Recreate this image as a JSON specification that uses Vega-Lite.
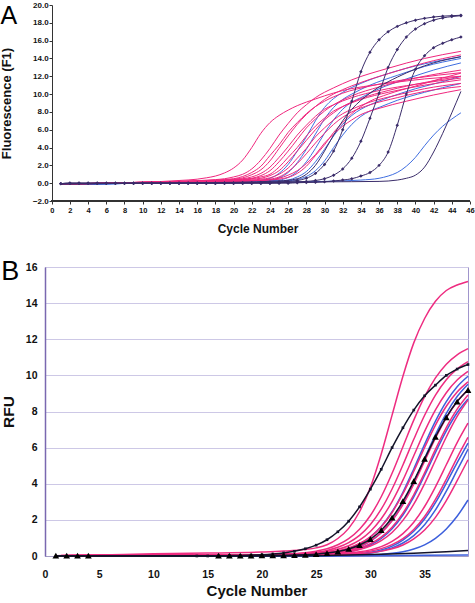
{
"$schema":"https://vega.github.io/schema/vega-lite/v6.json",
"padding":{"left":0,"top":1,"right":2,"bottom":2},
"spacing":22,
"config":{"view":{"stroke":null},"font":"Liberation Sans","axis":{"labelFont":"Liberation Sans","titleFont":"Liberation Sans","labelFontWeight":"bold","titleFontWeight":"bold","labelColor":"#111","titleColor":"#111","labelFlush":false,"labelOverlap":false}},
"datasets":{
"a":[
{"s":"pa1","x":1,"y":-0.1},{"s":"pa1","x":6,"y":0.0},{"s":"pa1","x":10,"y":0.1},{"s":"pa1","x":14,"y":0.3},{"s":"pa1","x":16,"y":0.45},{"s":"pa1","x":17,"y":0.6},{"s":"pa1","x":18,"y":0.8},{"s":"pa1","x":19,"y":1.15},{"s":"pa1","x":20,"y":1.7},{"s":"pa1","x":21,"y":2.6},{"s":"pa1","x":22,"y":4.0},{"s":"pa1","x":23,"y":5.6},{"s":"pa1","x":24,"y":6.8},{"s":"pa1","x":25,"y":7.6},{"s":"pa1","x":26,"y":8.2},{"s":"pa1","x":27,"y":8.7},{"s":"pa1","x":28,"y":9.1},{"s":"pa1","x":29,"y":9.45},{"s":"pa1","x":30,"y":9.8},{"s":"pa1","x":32,"y":10.4},{"s":"pa1","x":35,"y":10.95},{"s":"pa1","x":38,"y":11.35},{"s":"pa1","x":41,"y":11.7},{"s":"pa1","x":45,"y":12.0},
{"s":"pa2","x":1,"y":-0.1},{"s":"pa2","x":10,"y":0.1},{"s":"pa2","x":15,"y":0.25},{"s":"pa2","x":18,"y":0.4},{"s":"pa2","x":19,"y":0.5},{"s":"pa2","x":20,"y":0.7},{"s":"pa2","x":21,"y":1.0},{"s":"pa2","x":22,"y":1.6},{"s":"pa2","x":23,"y":2.6},{"s":"pa2","x":24,"y":3.9},{"s":"pa2","x":25,"y":5.4},{"s":"pa2","x":26,"y":6.7},{"s":"pa2","x":27,"y":7.9},{"s":"pa2","x":28,"y":8.8},{"s":"pa2","x":29,"y":9.6},{"s":"pa2","x":31,"y":10.7},{"s":"pa2","x":33,"y":11.6},{"s":"pa2","x":37,"y":12.9},{"s":"pa2","x":41,"y":14.0},{"s":"pa2","x":45,"y":14.8},
{"s":"pa3","x":1,"y":-0.1},{"s":"pa3","x":10,"y":0.1},{"s":"pa3","x":15,"y":0.2},{"s":"pa3","x":18,"y":0.35},{"s":"pa3","x":20,"y":0.5},{"s":"pa3","x":21,"y":0.75},{"s":"pa3","x":22,"y":1.2},{"s":"pa3","x":23,"y":1.9},{"s":"pa3","x":24,"y":3.1},{"s":"pa3","x":25,"y":4.3},{"s":"pa3","x":26,"y":5.7},{"s":"pa3","x":27,"y":6.8},{"s":"pa3","x":28,"y":7.8},{"s":"pa3","x":29,"y":8.6},{"s":"pa3","x":30,"y":9.2},{"s":"pa3","x":32,"y":10.1},{"s":"pa3","x":35,"y":10.9},{"s":"pa3","x":40,"y":11.8},{"s":"pa3","x":45,"y":12.4},
{"s":"pa4","x":1,"y":-0.1},{"s":"pa4","x":10,"y":0.1},{"s":"pa4","x":15,"y":0.2},{"s":"pa4","x":19,"y":0.35},{"s":"pa4","x":20,"y":0.45},{"s":"pa4","x":21,"y":0.6},{"s":"pa4","x":22,"y":0.95},{"s":"pa4","x":23,"y":1.5},{"s":"pa4","x":24,"y":2.5},{"s":"pa4","x":25,"y":3.9},{"s":"pa4","x":26,"y":5.3},{"s":"pa4","x":27,"y":6.6},{"s":"pa4","x":28,"y":7.7},{"s":"pa4","x":29,"y":8.6},{"s":"pa4","x":30,"y":9.4},{"s":"pa4","x":32,"y":10.5},{"s":"pa4","x":34,"y":11.3},{"s":"pa4","x":38,"y":12.6},{"s":"pa4","x":41,"y":13.5},{"s":"pa4","x":45,"y":14.4},
{"s":"pa5","x":1,"y":-0.1},{"s":"pa5","x":10,"y":0.1},{"s":"pa5","x":15,"y":0.2},{"s":"pa5","x":20,"y":0.4},{"s":"pa5","x":21,"y":0.5},{"s":"pa5","x":22,"y":0.7},{"s":"pa5","x":23,"y":1.1},{"s":"pa5","x":24,"y":1.8},{"s":"pa5","x":25,"y":2.9},{"s":"pa5","x":26,"y":4.1},{"s":"pa5","x":27,"y":5.4},{"s":"pa5","x":28,"y":6.5},{"s":"pa5","x":29,"y":7.5},{"s":"pa5","x":30,"y":8.3},{"s":"pa5","x":31,"y":8.8},{"s":"pa5","x":33,"y":9.6},{"s":"pa5","x":36,"y":10.4},{"s":"pa5","x":40,"y":11.1},{"s":"pa5","x":45,"y":11.8},
{"s":"pa6","x":1,"y":-0.1},{"s":"pa6","x":10,"y":0.1},{"s":"pa6","x":15,"y":0.2},{"s":"pa6","x":20,"y":0.35},{"s":"pa6","x":21,"y":0.45},{"s":"pa6","x":22,"y":0.55},{"s":"pa6","x":23,"y":0.85},{"s":"pa6","x":24,"y":1.4},{"s":"pa6","x":25,"y":2.4},{"s":"pa6","x":26,"y":3.6},{"s":"pa6","x":27,"y":4.9},{"s":"pa6","x":28,"y":6.2},{"s":"pa6","x":29,"y":7.2},{"s":"pa6","x":30,"y":8.1},{"s":"pa6","x":31,"y":8.8},{"s":"pa6","x":33,"y":9.8},{"s":"pa6","x":36,"y":10.8},{"s":"pa6","x":40,"y":11.8},{"s":"pa6","x":45,"y":12.7},
{"s":"pa7","x":1,"y":-0.1},{"s":"pa7","x":10,"y":0.1},{"s":"pa7","x":15,"y":0.2},{"s":"pa7","x":21,"y":0.4},{"s":"pa7","x":22,"y":0.5},{"s":"pa7","x":23,"y":0.7},{"s":"pa7","x":24,"y":1.0},{"s":"pa7","x":25,"y":1.8},{"s":"pa7","x":26,"y":2.9},{"s":"pa7","x":27,"y":4.0},{"s":"pa7","x":28,"y":5.3},{"s":"pa7","x":29,"y":6.4},{"s":"pa7","x":30,"y":7.3},{"s":"pa7","x":31,"y":8.1},{"s":"pa7","x":32,"y":8.6},{"s":"pa7","x":34,"y":9.4},{"s":"pa7","x":37,"y":10.2},{"s":"pa7","x":41,"y":11.0},{"s":"pa7","x":45,"y":11.6},
{"s":"pa8","x":1,"y":-0.1},{"s":"pa8","x":10,"y":0.05},{"s":"pa8","x":15,"y":0.15},{"s":"pa8","x":21,"y":0.35},{"s":"pa8","x":22,"y":0.45},{"s":"pa8","x":23,"y":0.55},{"s":"pa8","x":24,"y":0.85},{"s":"pa8","x":25,"y":1.4},{"s":"pa8","x":26,"y":2.4},{"s":"pa8","x":27,"y":3.6},{"s":"pa8","x":28,"y":4.8},{"s":"pa8","x":29,"y":6.0},{"s":"pa8","x":30,"y":7.1},{"s":"pa8","x":31,"y":7.9},{"s":"pa8","x":32,"y":8.6},{"s":"pa8","x":34,"y":9.5},{"s":"pa8","x":37,"y":10.4},{"s":"pa8","x":41,"y":11.3},{"s":"pa8","x":45,"y":12.0},
{"s":"pa9","x":1,"y":-0.1},{"s":"pa9","x":10,"y":0.05},{"s":"pa9","x":15,"y":0.15},{"s":"pa9","x":22,"y":0.35},{"s":"pa9","x":23,"y":0.45},{"s":"pa9","x":24,"y":0.6},{"s":"pa9","x":25,"y":1.0},{"s":"pa9","x":26,"y":1.7},{"s":"pa9","x":27,"y":2.8},{"s":"pa9","x":28,"y":3.9},{"s":"pa9","x":29,"y":5.2},{"s":"pa9","x":30,"y":6.2},{"s":"pa9","x":31,"y":7.1},{"s":"pa9","x":32,"y":7.8},{"s":"pa9","x":33,"y":8.3},{"s":"pa9","x":35,"y":9.1},{"s":"pa9","x":38,"y":9.9},{"s":"pa9","x":41,"y":10.6},{"s":"pa9","x":45,"y":11.2},
{"s":"pa10","x":1,"y":-0.1},{"s":"pa10","x":10,"y":0.05},{"s":"pa10","x":15,"y":0.15},{"s":"pa10","x":22,"y":0.3},{"s":"pa10","x":23,"y":0.35},{"s":"pa10","x":24,"y":0.45},{"s":"pa10","x":25,"y":0.7},{"s":"pa10","x":26,"y":1.3},{"s":"pa10","x":27,"y":2.2},{"s":"pa10","x":28,"y":3.3},{"s":"pa10","x":29,"y":4.5},{"s":"pa10","x":30,"y":5.6},{"s":"pa10","x":31,"y":6.6},{"s":"pa10","x":32,"y":7.4},{"s":"pa10","x":33,"y":8.0},{"s":"pa10","x":35,"y":8.8},{"s":"pa10","x":38,"y":9.6},{"s":"pa10","x":41,"y":10.3},{"s":"pa10","x":45,"y":10.85},
{"s":"pa11","x":1,"y":-0.1},{"s":"pa11","x":10,"y":0.05},{"s":"pa11","x":15,"y":0.1},{"s":"pa11","x":23,"y":0.3},{"s":"pa11","x":24,"y":0.4},{"s":"pa11","x":25,"y":0.55},{"s":"pa11","x":26,"y":0.9},{"s":"pa11","x":27,"y":1.4},{"s":"pa11","x":28,"y":2.2},{"s":"pa11","x":29,"y":3.2},{"s":"pa11","x":30,"y":4.5},{"s":"pa11","x":31,"y":5.5},{"s":"pa11","x":32,"y":6.4},{"s":"pa11","x":33,"y":7.1},{"s":"pa11","x":34,"y":7.7},{"s":"pa11","x":36,"y":8.4},{"s":"pa11","x":39,"y":9.2},{"s":"pa11","x":42,"y":9.9},{"s":"pa11","x":45,"y":10.5},
{"s":"pa12","x":1,"y":-0.1},{"s":"pa12","x":10,"y":0.05},{"s":"pa12","x":15,"y":0.1},{"s":"pa12","x":24,"y":0.35},{"s":"pa12","x":25,"y":0.45},{"s":"pa12","x":26,"y":0.65},{"s":"pa12","x":27,"y":1.1},{"s":"pa12","x":28,"y":1.9},{"s":"pa12","x":29,"y":3.1},{"s":"pa12","x":30,"y":4.3},{"s":"pa12","x":31,"y":5.7},{"s":"pa12","x":32,"y":6.8},{"s":"pa12","x":33,"y":7.8},{"s":"pa12","x":34,"y":8.6},{"s":"pa12","x":35,"y":9.2},{"s":"pa12","x":37,"y":10.0},{"s":"pa12","x":40,"y":10.9},{"s":"pa12","x":43,"y":11.8},{"s":"pa12","x":45,"y":12.35},
{"s":"ba1","x":1,"y":-0.15},{"s":"ba1","x":10,"y":0.0},{"s":"ba1","x":15,"y":0.05},{"s":"ba1","x":20,"y":0.15},{"s":"ba1","x":23,"y":0.3},{"s":"ba1","x":24,"y":0.55},{"s":"ba1","x":25,"y":1.1},{"s":"ba1","x":26,"y":2.1},{"s":"ba1","x":27,"y":3.6},{"s":"ba1","x":28,"y":5.2},{"s":"ba1","x":29,"y":7.0},{"s":"ba1","x":30,"y":8.5},{"s":"ba1","x":31,"y":9.5},{"s":"ba1","x":32,"y":10.2},{"s":"ba1","x":34,"y":11.2},{"s":"ba1","x":37,"y":12.3},{"s":"ba1","x":41,"y":13.4},{"s":"ba1","x":45,"y":14.2},
{"s":"ba2","x":1,"y":-0.15},{"s":"ba2","x":10,"y":0.0},{"s":"ba2","x":15,"y":0.05},{"s":"ba2","x":20,"y":0.1},{"s":"ba2","x":24,"y":0.3},{"s":"ba2","x":25,"y":0.6},{"s":"ba2","x":26,"y":1.2},{"s":"ba2","x":27,"y":2.3},{"s":"ba2","x":28,"y":3.8},{"s":"ba2","x":29,"y":5.5},{"s":"ba2","x":30,"y":7.2},{"s":"ba2","x":31,"y":8.5},{"s":"ba2","x":32,"y":9.4},{"s":"ba2","x":33,"y":10.0},{"s":"ba2","x":35,"y":11.0},{"s":"ba2","x":38,"y":12.1},{"s":"ba2","x":41,"y":13.1},{"s":"ba2","x":45,"y":14.0},
{"s":"ba3","x":1,"y":-0.15},{"s":"ba3","x":10,"y":0.0},{"s":"ba3","x":15,"y":0.05},{"s":"ba3","x":20,"y":0.1},{"s":"ba3","x":25,"y":0.35},{"s":"ba3","x":26,"y":0.65},{"s":"ba3","x":27,"y":1.3},{"s":"ba3","x":28,"y":2.4},{"s":"ba3","x":29,"y":3.9},{"s":"ba3","x":30,"y":5.6},{"s":"ba3","x":31,"y":7.1},{"s":"ba3","x":32,"y":8.3},{"s":"ba3","x":33,"y":9.1},{"s":"ba3","x":34,"y":9.6},{"s":"ba3","x":36,"y":10.6},{"s":"ba3","x":39,"y":11.7},{"s":"ba3","x":42,"y":12.7},{"s":"ba3","x":45,"y":13.5},
{"s":"ba4","x":1,"y":-0.15},{"s":"ba4","x":10,"y":0.0},{"s":"ba4","x":15,"y":0.05},{"s":"ba4","x":20,"y":0.1},{"s":"ba4","x":25,"y":0.25},{"s":"ba4","x":26,"y":0.35},{"s":"ba4","x":27,"y":0.7},{"s":"ba4","x":28,"y":1.3},{"s":"ba4","x":29,"y":2.4},{"s":"ba4","x":30,"y":3.8},{"s":"ba4","x":31,"y":5.3},{"s":"ba4","x":32,"y":6.6},{"s":"ba4","x":33,"y":7.6},{"s":"ba4","x":34,"y":8.3},{"s":"ba4","x":35,"y":8.8},{"s":"ba4","x":37,"y":9.6},{"s":"ba4","x":40,"y":10.6},{"s":"ba4","x":43,"y":11.4},{"s":"ba4","x":45,"y":12.0},
{"s":"ba5","x":1,"y":-0.15},{"s":"ba5","x":10,"y":0.0},{"s":"ba5","x":15,"y":0.05},{"s":"ba5","x":20,"y":0.1},{"s":"ba5","x":25,"y":0.2},{"s":"ba5","x":27,"y":0.4},{"s":"ba5","x":28,"y":0.75},{"s":"ba5","x":29,"y":1.4},{"s":"ba5","x":30,"y":2.5},{"s":"ba5","x":31,"y":4.0},{"s":"ba5","x":32,"y":5.4},{"s":"ba5","x":33,"y":6.6},{"s":"ba5","x":34,"y":7.5},{"s":"ba5","x":35,"y":8.1},{"s":"ba5","x":36,"y":8.5},{"s":"ba5","x":38,"y":9.3},{"s":"ba5","x":41,"y":10.2},{"s":"ba5","x":45,"y":11.2},
{"s":"lb","x":1,"y":-0.15},{"s":"lb","x":10,"y":0.0},{"s":"lb","x":20,"y":0.05},{"s":"lb","x":30,"y":0.2},{"s":"lb","x":34,"y":0.35},{"s":"lb","x":36,"y":0.55},{"s":"lb","x":37,"y":0.8},{"s":"lb","x":38,"y":1.2},{"s":"lb","x":39,"y":1.9},{"s":"lb","x":40,"y":2.9},{"s":"lb","x":41,"y":4.2},{"s":"lb","x":42,"y":5.4},{"s":"lb","x":43,"y":6.4},{"s":"lb","x":44,"y":7.2},{"s":"lb","x":45,"y":7.9},
{"s":"n1","x":1,"y":-0.1},{"s":"n1","x":10,"y":0.0},{"s":"n1","x":20,"y":0.1},{"s":"n1","x":25,"y":0.25},{"s":"n1","x":27,"y":0.5},{"s":"n1","x":28,"y":1.0},{"s":"n1","x":29,"y":2.0},{"s":"n1","x":30,"y":3.6},{"s":"n1","x":31,"y":5.4},{"s":"n1","x":32,"y":7.0},{"s":"n1","x":33,"y":8.3},{"s":"n1","x":34,"y":9.3},{"s":"n1","x":35,"y":10.1},{"s":"n1","x":36,"y":10.8},{"s":"n1","x":38,"y":11.9},{"s":"n1","x":40,"y":12.8},{"s":"n1","x":42,"y":13.5},{"s":"n1","x":45,"y":14.2},
{"s":"d4","x":1,"y":-0.1},{"s":"d4","x":10,"y":0.0},{"s":"d4","x":20,"y":0.05},{"s":"d4","x":30,"y":0.15},{"s":"d4","x":36,"y":0.2},{"s":"d4","x":38,"y":0.35},{"s":"d4","x":39,"y":0.55},{"s":"d4","x":40,"y":0.9},{"s":"d4","x":41,"y":1.8},{"s":"d4","x":42,"y":3.5},{"s":"d4","x":43,"y":5.6},{"s":"d4","x":44,"y":7.9},{"s":"d4","x":45,"y":10.3},
{"s":"d1","x":1,"y":-0.05},{"s":"d1","x":2,"y":0},{"s":"d1","x":3,"y":0},{"s":"d1","x":4,"y":0},{"s":"d1","x":5,"y":0},{"s":"d1","x":6,"y":0},{"s":"d1","x":7,"y":0},{"s":"d1","x":8,"y":0},{"s":"d1","x":9,"y":0},{"s":"d1","x":10,"y":0},{"s":"d1","x":11,"y":0},{"s":"d1","x":12,"y":0},{"s":"d1","x":13,"y":0},{"s":"d1","x":14,"y":0},{"s":"d1","x":15,"y":0},{"s":"d1","x":16,"y":0},{"s":"d1","x":17,"y":0},{"s":"d1","x":18,"y":0},{"s":"d1","x":19,"y":0.02},{"s":"d1","x":20,"y":0.03},{"s":"d1","x":21,"y":0.05},{"s":"d1","x":22,"y":0.06},{"s":"d1","x":23,"y":0.08},{"s":"d1","x":24,"y":0.1},{"s":"d1","x":25,"y":0.15},{"s":"d1","x":26,"y":0.2},{"s":"d1","x":27,"y":0.3},{"s":"d1","x":28,"y":0.55},{"s":"d1","x":29,"y":1.1},{"s":"d1","x":30,"y":2.1},{"s":"d1","x":31,"y":3.6},{"s":"d1","x":32,"y":6.0},{"s":"d1","x":33,"y":9.2},{"s":"d1","x":34,"y":12.5},{"s":"d1","x":35,"y":14.7},{"s":"d1","x":36,"y":16.1},{"s":"d1","x":37,"y":17.0},{"s":"d1","x":38,"y":17.6},{"s":"d1","x":39,"y":18.0},{"s":"d1","x":40,"y":18.3},{"s":"d1","x":41,"y":18.5},{"s":"d1","x":42,"y":18.65},{"s":"d1","x":43,"y":18.75},{"s":"d1","x":44,"y":18.8},{"s":"d1","x":45,"y":18.85},
{"s":"d2","x":1,"y":-0.05},{"s":"d2","x":2,"y":0},{"s":"d2","x":3,"y":0},{"s":"d2","x":4,"y":0},{"s":"d2","x":5,"y":0},{"s":"d2","x":6,"y":0},{"s":"d2","x":7,"y":0},{"s":"d2","x":8,"y":0},{"s":"d2","x":9,"y":0},{"s":"d2","x":10,"y":0},{"s":"d2","x":11,"y":0},{"s":"d2","x":12,"y":0},{"s":"d2","x":13,"y":0},{"s":"d2","x":14,"y":0},{"s":"d2","x":15,"y":0},{"s":"d2","x":16,"y":0},{"s":"d2","x":17,"y":0},{"s":"d2","x":18,"y":0},{"s":"d2","x":19,"y":0},{"s":"d2","x":20,"y":0},{"s":"d2","x":21,"y":0},{"s":"d2","x":22,"y":0},{"s":"d2","x":23,"y":0},{"s":"d2","x":24,"y":0},{"s":"d2","x":25,"y":0.05},{"s":"d2","x":26,"y":0.1},{"s":"d2","x":27,"y":0.15},{"s":"d2","x":28,"y":0.2},{"s":"d2","x":29,"y":0.3},{"s":"d2","x":30,"y":0.5},{"s":"d2","x":31,"y":0.9},{"s":"d2","x":32,"y":1.6},{"s":"d2","x":33,"y":2.8},{"s":"d2","x":34,"y":4.7},{"s":"d2","x":35,"y":7.3},{"s":"d2","x":36,"y":10.1},{"s":"d2","x":37,"y":13.0},{"s":"d2","x":38,"y":15.0},{"s":"d2","x":39,"y":16.4},{"s":"d2","x":40,"y":17.3},{"s":"d2","x":41,"y":17.9},{"s":"d2","x":42,"y":18.3},{"s":"d2","x":43,"y":18.55},{"s":"d2","x":44,"y":18.7},{"s":"d2","x":45,"y":18.8},
{"s":"d3","x":1,"y":-0.05},{"s":"d3","x":2,"y":0},{"s":"d3","x":3,"y":0},{"s":"d3","x":4,"y":0},{"s":"d3","x":5,"y":0},{"s":"d3","x":6,"y":0},{"s":"d3","x":7,"y":0},{"s":"d3","x":8,"y":0},{"s":"d3","x":9,"y":0},{"s":"d3","x":10,"y":0},{"s":"d3","x":11,"y":0},{"s":"d3","x":12,"y":0},{"s":"d3","x":13,"y":0},{"s":"d3","x":14,"y":0},{"s":"d3","x":15,"y":0},{"s":"d3","x":16,"y":0},{"s":"d3","x":17,"y":0},{"s":"d3","x":18,"y":0},{"s":"d3","x":19,"y":0},{"s":"d3","x":20,"y":0},{"s":"d3","x":21,"y":0},{"s":"d3","x":22,"y":0},{"s":"d3","x":23,"y":0},{"s":"d3","x":24,"y":0},{"s":"d3","x":25,"y":0},{"s":"d3","x":26,"y":0},{"s":"d3","x":27,"y":0.05},{"s":"d3","x":28,"y":0.08},{"s":"d3","x":29,"y":0.1},{"s":"d3","x":30,"y":0.15},{"s":"d3","x":31,"y":0.25},{"s":"d3","x":32,"y":0.35},{"s":"d3","x":33,"y":0.5},{"s":"d3","x":34,"y":0.8},{"s":"d3","x":35,"y":1.2},{"s":"d3","x":36,"y":2.0},{"s":"d3","x":37,"y":3.5},{"s":"d3","x":38,"y":6.5},{"s":"d3","x":39,"y":10.0},{"s":"d3","x":40,"y":12.8},{"s":"d3","x":41,"y":14.3},{"s":"d3","x":42,"y":15.2},{"s":"d3","x":43,"y":15.7},{"s":"d3","x":44,"y":16.1},{"s":"d3","x":45,"y":16.4}
],
"b":[
{"s":"p1","x":1,"y":0.02},{"s":"p1","x":5,"y":0.06},{"s":"p1","x":10,"y":0.12},{"s":"p1","x":15,"y":0.16},{"s":"p1","x":20,"y":0.22},{"s":"p1","x":22,"y":0.27},{"s":"p1","x":24,"y":0.36},{"s":"p1","x":25,"y":0.45},{"s":"p1","x":26,"y":0.62},{"s":"p1","x":27,"y":0.97},{"s":"p1","x":28,"y":1.53},{"s":"p1","x":29,"y":2.45},{"s":"p1","x":30,"y":3.8},{"s":"p1","x":31,"y":5.65},{"s":"p1","x":32,"y":7.8},{"s":"p1","x":33,"y":9.95},{"s":"p1","x":34,"y":11.8},{"s":"p1","x":35,"y":13.15},{"s":"p1","x":36,"y":14.1},{"s":"p1","x":37,"y":14.7},{"s":"p1","x":38,"y":15.0},{"s":"p1","x":39,"y":15.2},
{"s":"p2","x":1,"y":0.02},{"s":"p2","x":15,"y":0.05},{"s":"p2","x":20,"y":0.07},{"s":"p2","x":22,"y":0.1},{"s":"p2","x":24,"y":0.18},{"s":"p2","x":25,"y":0.27},{"s":"p2","x":26,"y":0.4},{"s":"p2","x":27,"y":0.62},{"s":"p2","x":28,"y":0.96},{"s":"p2","x":29,"y":1.48},{"s":"p2","x":30,"y":2.24},{"s":"p2","x":31,"y":3.28},{"s":"p2","x":32,"y":4.58},{"s":"p2","x":33,"y":6.05},{"s":"p2","x":34,"y":7.52},{"s":"p2","x":35,"y":8.82},{"s":"p2","x":36,"y":9.86},{"s":"p2","x":37,"y":10.62},{"s":"p2","x":38,"y":11.14},{"s":"p2","x":39,"y":11.48},
{"s":"p3","x":1,"y":0.02},{"s":"p3","x":15,"y":0.05},{"s":"p3","x":20,"y":0.07},{"s":"p3","x":22,"y":0.09},{"s":"p3","x":24,"y":0.15},{"s":"p3","x":25,"y":0.21},{"s":"p3","x":26,"y":0.31},{"s":"p3","x":27,"y":0.48},{"s":"p3","x":28,"y":0.74},{"s":"p3","x":29,"y":1.14},{"s":"p3","x":30,"y":1.74},{"s":"p3","x":31,"y":2.59},{"s":"p3","x":32,"y":3.71},{"s":"p3","x":33,"y":5.04},{"s":"p3","x":34,"y":6.46},{"s":"p3","x":35,"y":7.79},{"s":"p3","x":36,"y":8.91},{"s":"p3","x":37,"y":9.76},{"s":"p3","x":38,"y":10.36},{"s":"p3","x":39,"y":10.76},
{"s":"p4","x":1,"y":0.02},{"s":"p4","x":15,"y":0.05},{"s":"p4","x":20,"y":0.06},{"s":"p4","x":22,"y":0.08},{"s":"p4","x":24,"y":0.12},{"s":"p4","x":25,"y":0.17},{"s":"p4","x":26,"y":0.25},{"s":"p4","x":27,"y":0.37},{"s":"p4","x":28,"y":0.57},{"s":"p4","x":29,"y":0.88},{"s":"p4","x":30,"y":1.36},{"s":"p4","x":31,"y":2.06},{"s":"p4","x":32,"y":3.01},{"s":"p4","x":33,"y":4.2},{"s":"p4","x":34,"y":5.55},{"s":"p4","x":35,"y":6.9},{"s":"p4","x":36,"y":8.09},{"s":"p4","x":37,"y":9.04},{"s":"p4","x":38,"y":9.74},{"s":"p4","x":39,"y":10.22},
{"s":"p5","x":1,"y":0.02},{"s":"p5","x":15,"y":0.05},{"s":"p5","x":20,"y":0.06},{"s":"p5","x":24,"y":0.11},{"s":"p5","x":25,"y":0.14},{"s":"p5","x":26,"y":0.2},{"s":"p5","x":27,"y":0.29},{"s":"p5","x":28,"y":0.45},{"s":"p5","x":29,"y":0.69},{"s":"p5","x":30,"y":1.06},{"s":"p5","x":31,"y":1.62},{"s":"p5","x":32,"y":2.41},{"s":"p5","x":33,"y":3.45},{"s":"p5","x":34,"y":4.69},{"s":"p5","x":35,"y":6.01},{"s":"p5","x":36,"y":7.25},{"s":"p5","x":37,"y":8.29},{"s":"p5","x":38,"y":9.08},{"s":"p5","x":39,"y":9.64},
{"s":"p6","x":1,"y":0.02},{"s":"p6","x":15,"y":0.05},{"s":"p6","x":20,"y":0.06},{"s":"p6","x":24,"y":0.09},{"s":"p6","x":25,"y":0.12},{"s":"p6","x":26,"y":0.16},{"s":"p6","x":27,"y":0.24},{"s":"p6","x":28,"y":0.35},{"s":"p6","x":29,"y":0.54},{"s":"p6","x":30,"y":0.84},{"s":"p6","x":31,"y":1.29},{"s":"p6","x":32,"y":1.95},{"s":"p6","x":33,"y":2.85},{"s":"p6","x":34,"y":3.98},{"s":"p6","x":35,"y":5.25},{"s":"p6","x":36,"y":6.52},{"s":"p6","x":37,"y":7.65},{"s":"p6","x":38,"y":8.55},{"s":"p6","x":39,"y":9.21},
{"s":"p7","x":1,"y":0.02},{"s":"p7","x":15,"y":0.05},{"s":"p7","x":20,"y":0.06},{"s":"p7","x":24,"y":0.08},{"s":"p7","x":25,"y":0.1},{"s":"p7","x":26,"y":0.14},{"s":"p7","x":27,"y":0.2},{"s":"p7","x":28,"y":0.29},{"s":"p7","x":29,"y":0.44},{"s":"p7","x":30,"y":0.68},{"s":"p7","x":31,"y":1.04},{"s":"p7","x":32,"y":1.59},{"s":"p7","x":33,"y":2.37},{"s":"p7","x":34,"y":3.39},{"s":"p7","x":35,"y":4.6},{"s":"p7","x":36,"y":5.9},{"s":"p7","x":37,"y":7.11},{"s":"p7","x":38,"y":8.13},{"s":"p7","x":39,"y":8.91},
{"s":"p11","x":1,"y":0.02},{"s":"p11","x":15,"y":0.05},{"s":"p11","x":20,"y":0.06},{"s":"p11","x":25,"y":0.09},{"s":"p11","x":26,"y":0.12},{"s":"p11","x":27,"y":0.17},{"s":"p11","x":28,"y":0.24},{"s":"p11","x":29,"y":0.36},{"s":"p11","x":30,"y":0.55},{"s":"p11","x":31,"y":0.85},{"s":"p11","x":32,"y":1.3},{"s":"p11","x":33,"y":1.97},{"s":"p11","x":34,"y":2.87},{"s":"p11","x":35,"y":4.01},{"s":"p11","x":36,"y":5.3},{"s":"p11","x":37,"y":6.59},{"s":"p11","x":38,"y":7.73},{"s":"p11","x":39,"y":8.63},
{"s":"p8","x":1,"y":0.02},{"s":"p8","x":15,"y":0.05},{"s":"p8","x":20,"y":0.06},{"s":"p8","x":25,"y":0.07},{"s":"p8","x":26,"y":0.09},{"s":"p8","x":27,"y":0.12},{"s":"p8","x":28,"y":0.16},{"s":"p8","x":29,"y":0.23},{"s":"p8","x":30,"y":0.34},{"s":"p8","x":31,"y":0.52},{"s":"p8","x":32,"y":0.81},{"s":"p8","x":33,"y":1.24},{"s":"p8","x":34,"y":1.87},{"s":"p8","x":35,"y":2.74},{"s":"p8","x":36,"y":3.83},{"s":"p8","x":37,"y":5.05},{"s":"p8","x":38,"y":6.28},{"s":"p8","x":39,"y":7.36},
{"s":"p9","x":1,"y":0.02},{"s":"p9","x":15,"y":0.05},{"s":"p9","x":20,"y":0.06},{"s":"p9","x":26,"y":0.08},{"s":"p9","x":27,"y":0.1},{"s":"p9","x":28,"y":0.13},{"s":"p9","x":29,"y":0.18},{"s":"p9","x":30,"y":0.27},{"s":"p9","x":31,"y":0.41},{"s":"p9","x":32,"y":0.63},{"s":"p9","x":33,"y":0.96},{"s":"p9","x":34,"y":1.47},{"s":"p9","x":35,"y":2.19},{"s":"p9","x":36,"y":3.13},{"s":"p9","x":37,"y":4.25},{"s":"p9","x":38,"y":5.45},{"s":"p9","x":39,"y":6.57},
{"s":"p10","x":1,"y":0.02},{"s":"p10","x":15,"y":0.05},{"s":"p10","x":20,"y":0.06},{"s":"p10","x":27,"y":0.08},{"s":"p10","x":28,"y":0.1},{"s":"p10","x":29,"y":0.13},{"s":"p10","x":30,"y":0.18},{"s":"p10","x":31,"y":0.27},{"s":"p10","x":32,"y":0.4},{"s":"p10","x":33,"y":0.61},{"s":"p10","x":34,"y":0.95},{"s":"p10","x":35,"y":1.44},{"s":"p10","x":36,"y":2.14},{"s":"p10","x":37,"y":3.07},{"s":"p10","x":38,"y":4.17},{"s":"p10","x":39,"y":5.33},
{"s":"b1","x":1,"y":0.0},{"s":"b1","x":15,"y":0.01},{"s":"b1","x":20,"y":0.02},{"s":"b1","x":24,"y":0.06},{"s":"b1","x":25,"y":0.09},{"s":"b1","x":26,"y":0.15},{"s":"b1","x":27,"y":0.25},{"s":"b1","x":28,"y":0.41},{"s":"b1","x":29,"y":0.66},{"s":"b1","x":30,"y":1.05},{"s":"b1","x":31,"y":1.63},{"s":"b1","x":32,"y":2.45},{"s":"b1","x":33,"y":3.53},{"s":"b1","x":34,"y":4.82},{"s":"b1","x":35,"y":6.18},{"s":"b1","x":36,"y":7.47},{"s":"b1","x":37,"y":8.55},{"s":"b1","x":38,"y":9.37},{"s":"b1","x":39,"y":9.95},
{"s":"b2","x":1,"y":0.0},{"s":"b2","x":15,"y":0.01},{"s":"b2","x":20,"y":0.02},{"s":"b2","x":25,"y":0.05},{"s":"b2","x":26,"y":0.09},{"s":"b2","x":27,"y":0.14},{"s":"b2","x":28,"y":0.23},{"s":"b2","x":29,"y":0.38},{"s":"b2","x":30,"y":0.61},{"s":"b2","x":31,"y":0.97},{"s":"b2","x":32,"y":1.51},{"s":"b2","x":33,"y":2.27},{"s":"b2","x":34,"y":3.27},{"s":"b2","x":35,"y":4.47},{"s":"b2","x":36,"y":5.73},{"s":"b2","x":37,"y":6.93},{"s":"b2","x":38,"y":7.93},{"s":"b2","x":39,"y":8.69},
{"s":"b5","x":1,"y":0.0},{"s":"b5","x":15,"y":0.01},{"s":"b5","x":20,"y":0.02},{"s":"b5","x":25,"y":0.07},{"s":"b5","x":26,"y":0.12},{"s":"b5","x":27,"y":0.19},{"s":"b5","x":28,"y":0.32},{"s":"b5","x":29,"y":0.51},{"s":"b5","x":30,"y":0.82},{"s":"b5","x":31,"y":1.29},{"s":"b5","x":32,"y":1.97},{"s":"b5","x":33,"y":2.9},{"s":"b5","x":34,"y":4.08},{"s":"b5","x":35,"y":5.4},{"s":"b5","x":36,"y":6.72},{"s":"b5","x":37,"y":7.9},{"s":"b5","x":38,"y":8.83},{"s":"b5","x":39,"y":9.51},
{"s":"b3","x":1,"y":0.0},{"s":"b3","x":20,"y":0.01},{"s":"b3","x":26,"y":0.03},{"s":"b3","x":27,"y":0.05},{"s":"b3","x":28,"y":0.08},{"s":"b3","x":29,"y":0.13},{"s":"b3","x":30,"y":0.21},{"s":"b3","x":31,"y":0.34},{"s":"b3","x":32,"y":0.55},{"s":"b3","x":33,"y":0.88},{"s":"b3","x":34,"y":1.37},{"s":"b3","x":35,"y":2.05},{"s":"b3","x":36,"y":2.95},{"s":"b3","x":37,"y":4.03},{"s":"b3","x":38,"y":5.17},{"s":"b3","x":39,"y":6.25},
{"s":"b4","x":1,"y":0.0},{"s":"b4","x":20,"y":0.01},{"s":"b4","x":26,"y":0.03},{"s":"b4","x":27,"y":0.04},{"s":"b4","x":28,"y":0.06},{"s":"b4","x":29,"y":0.1},{"s":"b4","x":30,"y":0.17},{"s":"b4","x":31,"y":0.28},{"s":"b4","x":32,"y":0.45},{"s":"b4","x":33,"y":0.72},{"s":"b4","x":34,"y":1.13},{"s":"b4","x":35,"y":1.73},{"s":"b4","x":36,"y":2.55},{"s":"b4","x":37,"y":3.59},{"s":"b4","x":38,"y":4.75},{"s":"b4","x":39,"y":5.91},
{"s":"b6","x":1,"y":0.0},{"s":"b6","x":20,"y":0.0},{"s":"b6","x":28,"y":0.02},{"s":"b6","x":30,"y":0.05},{"s":"b6","x":31,"y":0.09},{"s":"b6","x":32,"y":0.15},{"s":"b6","x":33,"y":0.24},{"s":"b6","x":34,"y":0.39},{"s":"b6","x":35,"y":0.62},{"s":"b6","x":36,"y":0.98},{"s":"b6","x":37,"y":1.5},{"s":"b6","x":38,"y":2.2},{"s":"b6","x":39,"y":3.1},
{"s":"b7","x":1,"y":0.0},{"s":"b7","x":20,"y":0.0},{"s":"b7","x":30,"y":0.02},{"s":"b7","x":39,"y":0.05},
{"s":"k2","x":1,"y":0.0},{"s":"k2","x":20,"y":0.0},{"s":"k2","x":25,"y":0.02},{"s":"k2","x":28,"y":0.05},{"s":"k2","x":31,"y":0.09},{"s":"k2","x":34,"y":0.15},{"s":"k2","x":37,"y":0.24},{"s":"k2","x":39,"y":0.3},
{"s":"k1","x":1,"y":0},{"s":"k1","x":5,"y":0},{"s":"k1","x":10,"y":0},{"s":"k1","x":14,"y":0},{"s":"k1","x":15,"y":0},{"s":"k1","x":16,"y":0.01},{"s":"k1","x":17,"y":0.02},{"s":"k1","x":18,"y":0.03},{"s":"k1","x":19,"y":0.05},{"s":"k1","x":20,"y":0.07},{"s":"k1","x":21,"y":0.11},{"s":"k1","x":22,"y":0.17},{"s":"k1","x":23,"y":0.26},{"s":"k1","x":24,"y":0.4},{"s":"k1","x":25,"y":0.6},{"s":"k1","x":26,"y":0.9},{"s":"k1","x":27,"y":1.34},{"s":"k1","x":28,"y":1.93},{"s":"k1","x":29,"y":2.72},{"s":"k1","x":30,"y":3.7},{"s":"k1","x":31,"y":4.8},{"s":"k1","x":32,"y":6.0},{"s":"k1","x":33,"y":7.1},{"s":"k1","x":34,"y":8.08},{"s":"k1","x":35,"y":8.87},{"s":"k1","x":36,"y":9.46},{"s":"k1","x":37,"y":10.0},{"s":"k1","x":38,"y":10.35},{"s":"k1","x":39,"y":10.6},
{"s":"t","x":1,"y":0.02},{"s":"t","x":2,"y":0.02},{"s":"t","x":3,"y":0.02},{"s":"t","x":4,"y":0.02},{"s":"t","x":16,"y":0.02},{"s":"t","x":17,"y":0.02},{"s":"t","x":18,"y":0.02},{"s":"t","x":19,"y":0.02},{"s":"t","x":20,"y":0.03},{"s":"t","x":21,"y":0.03},{"s":"t","x":22,"y":0.04},{"s":"t","x":23,"y":0.05},{"s":"t","x":24,"y":0.07},{"s":"t","x":25,"y":0.1},{"s":"t","x":26,"y":0.16},{"s":"t","x":27,"y":0.25},{"s":"t","x":28,"y":0.39},{"s":"t","x":29,"y":0.61},{"s":"t","x":30,"y":0.94},{"s":"t","x":31,"y":1.43},{"s":"t","x":32,"y":2.12},{"s":"t","x":33,"y":3.04},{"s":"t","x":34,"y":4.15},{"s":"t","x":35,"y":5.38},{"s":"t","x":36,"y":6.6},{"s":"t","x":37,"y":7.68},{"s":"t","x":38,"y":8.55},{"s":"t","x":39,"y":9.19}
]
},
"vconcat":[
{
"width":425,"height":196,
"title":{"text":"A","anchor":"start","frame":"bounds","orient":"top","fontSize":25,"fontWeight":"normal","font":"Liberation Sans","offset":-28,"color":"#000"},
"data":{"name":"a"},
"encoding":{
"x":{"field":"x","type":"quantitative","scale":{"domain":[-0.74,46],"nice":false,"zero":false},"axis":{"values":[0,2,4,6,8,10,12,14,16,18,20,22,24,26,28,30,32,34,36,38,40,42,44,46],"title":"Cycle Number","titleFontSize":12,"labelFontSize":7.5,"tickSize":3,"labelPadding":2,"titlePadding":10,"grid":false,"domain":false,"tickColor":"#333"}},
"y":{"field":"y","type":"quantitative","scale":{"domain":[-2,20],"nice":false,"zero":false},"axis":{"values":[-2,0,2,4,6,8,10,12,14,16,18,20],"format":".1f","title":"Fluorescence (F1)","titleFontSize":13,"labelFontSize":8,"tickSize":3,"labelPadding":0.8,"titlePadding":19,"offset":-7,"grid":false,"domainColor":"#333","tickColor":"#333"}}
},
"layer":[
{"mark":{"type":"rule","color":"#333","strokeWidth":1},"encoding":{"x":{"datum":0},"x2":{"datum":46},"y":{"datum":-2}}},
{"transform":[{"filter":{"field":"s","oneOf":["ba1","ba2","ba3","ba4","ba5","lb"]}}],"mark":{"type":"line","color":"#3f6ee0","strokeWidth":1,"interpolate":"monotone"},"encoding":{"detail":{"field":"s"}}},
{"transform":[{"filter":{"field":"s","oneOf":["pa1","pa2","pa3","pa4","pa5","pa6","pa7","pa8","pa9","pa10","pa11","pa12"]}}],"mark":{"type":"line","color":"#f0277e","strokeWidth":1,"interpolate":"monotone"},"encoding":{"detail":{"field":"s"}}},
{"transform":[{"filter":{"field":"s","oneOf":["n1","d4","d1","d2","d3"]}}],"mark":{"type":"line","color":"#3a2c6a","strokeWidth":1,"interpolate":"monotone"},"encoding":{"detail":{"field":"s"}}},
{"transform":[{"filter":{"field":"s","oneOf":["d1","d2","d3"]}}],"mark":{"type":"point","shape":"diamond","filled":true,"size":12,"color":"#3a2c6a","opacity":1},"encoding":{"detail":{"field":"s"}}}
]
},
{
"width":423,"height":289,
"view":{"stroke":"#a095cc","strokeWidth":1},
"title":{"text":"B","anchor":"start","frame":"bounds","orient":"top","fontSize":27,"fontWeight":"normal","font":"Liberation Sans","offset":-24,"color":"#000"},
"data":{"name":"b"},
"encoding":{
"x":{"field":"x","type":"quantitative","scale":{"domain":[0,39],"nice":false,"zero":false},"axis":{"values":[0,5,10,15,20,25,30,35],"title":"Cycle Number","titleFontSize":15,"labelFontSize":10.5,"ticks":false,"labelPadding":13,"titlePadding":4,"grid":false,"domainColor":"#a39cc6"}},
"y":{"field":"y","type":"quantitative","scale":{"domain":[0,16],"nice":false,"zero":false},"axis":{"values":[0,2,4,6,8,10,12,14,16],"title":"RFU","titleFontSize":15.5,"labelFontSize":10.5,"ticks":false,"labelPadding":8,"titlePadding":9,"grid":true,"gridColor":"#cdc8e6","domainColor":"#7a68b0","domainWidth":1.5}}
},
"layer":[
{"transform":[{"filter":{"field":"s","oneOf":["b1","b2","b3","b4","b5","b6","b7"]}}],"mark":{"type":"line","color":"#3c5fdc","strokeWidth":1.5,"interpolate":"monotone"},"encoding":{"detail":{"field":"s"}}},
{"transform":[{"filter":{"field":"s","oneOf":["p1","p2","p3","p4","p5","p6","p7","p8","p9","p10","p11"]}}],"mark":{"type":"line","color":"#ee2c80","strokeWidth":1.5,"interpolate":"monotone"},"encoding":{"detail":{"field":"s"}}},
{"transform":[{"filter":{"field":"s","oneOf":["k1","k2","t"]}}],"mark":{"type":"line","color":"#14142a","strokeWidth":1.5,"interpolate":"monotone"},"encoding":{"detail":{"field":"s"}}},
{"transform":[{"filter":{"field":"s","equal":"k1"}},{"filter":{"field":"x","gte":14}}],"mark":{"type":"square","size":7,"color":"#14142a","opacity":1},"encoding":{}},
{"transform":[{"filter":{"field":"s","equal":"t"}}],"mark":{"type":"point","shape":"triangle-up","filled":true,"size":45,"color":"#000","opacity":1},"encoding":{}}
]
}
]
}
